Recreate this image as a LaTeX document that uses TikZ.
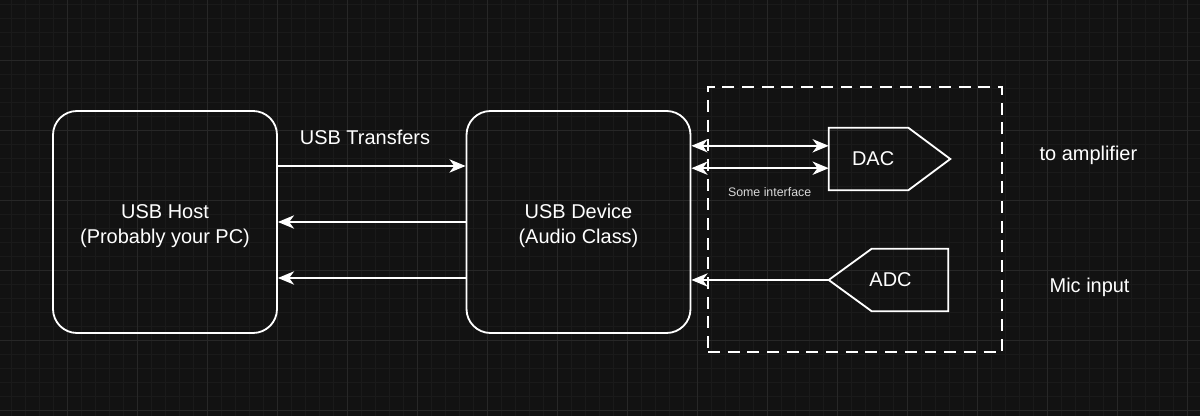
\documentclass[tikz,border=0pt]{standalone}
\usepackage{fontspec}
\setmainfont{Liberation Sans}
\usetikzlibrary{positioning, arrows.meta, calc}
\definecolor{canvas}{HTML}{121212}
\definecolor{gridmin}{HTML}{1A1A1A}
\definecolor{gridmaj}{HTML}{272727}

\begin{document}
\begin{tikzpicture}[
  block/.style={draw=white, rounded corners=6mm, line width=1.3pt, minimum width=5.6cm,
                minimum height=5.55cm},
  conv/.style={minimum height=1.55cm, inner sep=0pt},
  outline/.style={draw=white, line width=1.3pt, line join=miter},
  txt/.style={text=white, align=center, font=\fontsize{14.2}{17.8}\selectfont},
  small/.style={text=white!85!black, font=\fontsize{8.8}{10}\selectfont},
  arr/.style={-{Stealth[length=11.5pt, width=9.5pt, inset=3.5pt]}, line width=1.1pt, draw=white},
  darr/.style={{Stealth[length=11.5pt, width=9.5pt, inset=3.5pt]}-{Stealth[length=11.5pt, width=9.5pt, inset=3.5pt]},
               line width=1.1pt, draw=white},
  dbox/.style={draw=white, dash pattern=on 8.5pt off 5.5pt, line width=1.3pt,
               minimum width=7.35cm, minimum height=6.625cm},
]

% Canvas
\useasboundingbox (0,0) rectangle (30,10.4);
\fill[canvas] (0,0) rectangle (30,10.4);
\begin{scope}
  \clip (0,0) rectangle (30,10.4);
  \draw[gridmin, line width=0.4pt, shift={(1.675,0.15)}] (-2,-1) grid[step=0.35] (30,11);
  \draw[gridmaj, line width=0.5pt, shift={(1.675,0.15)}] (-3.5,-1.75) grid[step=1.75] (29.75,10.5);
\end{scope}

% Nodes
\node[block] (host) at (4.125,4.85) {};
\node[txt] (hosttxt) at ([yshift=-0.1cm]host.center) {USB Host\\(Probably your PC)};
\node[block] (device) at (14.4625,4.85) {};
\node[txt] (devtxt) at ([yshift=-0.1cm]device.center) {USB Device\\(Audio Class)};
\node[txt] (xfer) at (9.125,6.975) {USB Transfers};

\node[dbox] (iface) at (21.375,4.9125) {};

\node[conv, minimum width=3.025cm] (dac) at (22.2375,6.425) {};
\draw[outline] (dac.north west) -- ([xshift=-1.05cm]dac.north east) -- (dac.east)
  -- ([xshift=-1.05cm]dac.south east) -- (dac.south west) -- cycle;
\node[txt] (dactxt) at ([xshift=-0.41cm]dac.center) {DAC};

\node[conv, minimum width=2.975cm] (adc) at (22.2125,3.4) {};
\draw[outline] (adc.west) -- ([xshift=1.075cm]adc.north west) -- (adc.north east)
  -- (adc.south east) -- ([xshift=1.075cm]adc.south west) -- cycle;
\node[txt] (adctxt) at ([xshift=0.05cm]adc.center) {ADC};

\node[small] (ifacelbl) at (19.24,5.6) {Some interface};
\node[txt] (amp) at (27.21,6.525) {to amplifier};
\node[txt] (mic) at (27.24,3.22) {Mic input};

% Arrows - USB link
\draw[arr] ([yshift=1.4cm]host.east) -- ([yshift=1.4cm]device.west);
\draw[arr] (device.west) -- (host.east);
\draw[arr] ([yshift=-1.4cm]device.west) -- ([yshift=-1.4cm]host.east);

% Arrows - converters
\coordinate (dacin1) at ([yshift=0.33cm]dac.west);
\coordinate (dacin2) at ([yshift=-0.23cm]dac.west);
\draw[darr] (device.east |- dacin1) -- (dacin1);
\draw[darr] (device.east |- dacin2) -- (dacin2);
\draw[arr] (adc.west) -- (adc.west -| device.east);

\end{tikzpicture}
\end{document}
